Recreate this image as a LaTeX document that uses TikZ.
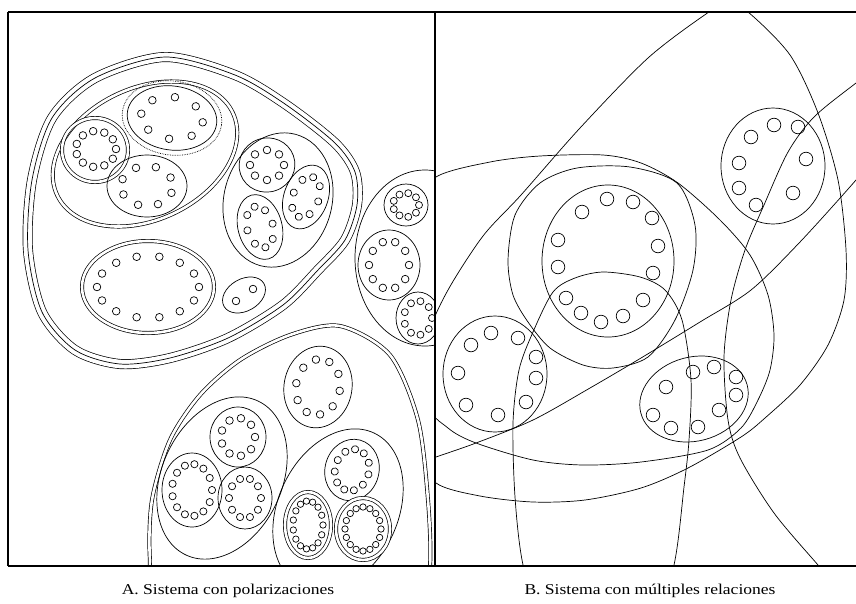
\documentclass[tikz,border=0pt]{standalone}
\usepackage{fontspec}
\setmainfont{Liberation Serif}

\begin{document}
\begin{tikzpicture}[x=1pt,y=-1pt,line width=0.7pt,
  dbl/.style={double,double distance=2.6pt},
  trip/.style={preaction={draw,line width=10pt},preaction={draw,white,line width=8.6pt}},
  frame/.style={line width=1.3pt},
  caption/.style={font=\fontsize{15}{17}\selectfont,xscale=1.17,inner sep=0pt}]
\useasboundingbox (0,0) rectangle (856,603);

% A: polarised system
\begin{scope}
\clip (8,12) rectangle (435,566);
\draw[trip] plot[smooth cycle] coordinates {(165,57) (235,75) (285,104) (335,143) (355,172) (357,205) (345,240) (318,270) (283,305) (228,338) (170,358) (120,364) (75,350) (42,312) (28,250) (32,180) (52,118) (95,78)};
% upper left group
\draw[dbl,rotate around={25:(145,154)}] (145,154) ellipse (97 and 66);
\draw[densely dotted,rotate around={-8:(172,118)}] (172,118) ellipse (50 and 37);
\draw[rotate around={-8:(172,118)}] (172,118) ellipse (45 and 32);
\foreach \k in {1,...,8} \draw[rotate around={-8:(172,118)}] (172,118) ++({\k*45}:31 and 21) circle (3.8);
\draw[dbl] (95,150) ellipse (33 and 32);
\foreach \k in {1,...,11} \draw (96,149) ++({\k*360/11}:20 and 18) circle (3.8);
\draw (147,186) ellipse (40 and 31);
\foreach \k in {1,...,8} \draw (147,186) ++({\k*45+20}:26 and 20) circle (3.8);
% right group
\draw[rotate around={-15:(278,200)}] (278,200) ellipse (54 and 68);
\draw[rotate around={20:(267,165)}] (267,165) ellipse (28 and 27);
\foreach \k in {1,...,8} \draw (267,165) ++({\k*45}:17 and 15) circle (3.8);
\draw[rotate around={-20:(306,197)}] (306,197) ellipse (22 and 33);
\foreach \k in {1,...,8} \draw[rotate around={-20:(306,197)}] (306,197) ++({\k*45}:13 and 21) circle (3.6);
\draw[rotate around={15:(260,227)}] (260,227) ellipse (22 and 33);
\foreach \k in {1,...,8} \draw[rotate around={15:(260,227)}] (260,227) ++({\k*45}:13 and 21) circle (3.6);
% lower group
\draw[dbl] (148,287) ellipse (66 and 46);
\foreach \k in {1,...,14} \draw (148,287) ++({\k*360/14}:51 and 31) circle (3.8);
\draw[rotate around={30:(244,295)}] (244,295) ellipse (23 and 16);
\draw (253,289) circle (3.8);
\draw (236,301) circle (3.8);
% cell cut by the border
\draw (425,258) ellipse (70 and 88);
\draw (406,205) ellipse (22 and 21);
\foreach \k in {1,...,9} \draw (406,205) ++({\k*40}:13 and 12) circle (3.5);
\draw (389,265) ellipse (31 and 35);
\foreach \k in {1,...,10} \draw (389,265) ++({\k*36}:20 and 24) circle (3.8);
\draw (418,318) ellipse (22 and 26);
\foreach \k in {1,...,9} \draw (418,318) ++({\k*40}:14 and 17) circle (3.5);
% big lower cell
\draw[dbl] plot[smooth cycle] coordinates {(340,326) (390,355) (418,420) (428,500) (430,566) (420,620) (300,640) (160,600) (150,560) (152,500) (170,440) (200,395) (240,360) (290,335)};
\draw[rotate around={-10:(318,387)}] (318,387) ellipse (34 and 41);
\foreach \k in {1,...,10} \draw[rotate around={-10:(318,387)}] (318,387) ++({\k*36}:22 and 28) circle (3.8);
\draw[rotate around={-25:(222,478)}] (222,478) ellipse (60 and 85);
\draw (238,437) ellipse (28 and 30);
\foreach \k in {1,...,9} \draw (238,437) ++({\k*40}:17 and 19) circle (3.8);
\draw (192,490) ellipse (30 and 37);
\foreach \k in {1,...,13} \draw (192,490) ++({\k*360/13}:20 and 26) circle (3.6);
\draw (245,498) ellipse (27 and 31);
\foreach \k in {1,...,10} \draw (245,498) ++({\k*36}:16 and 20) circle (3.6);
\draw[rotate around={-25:(338,510)}] (338,510) ellipse (60 and 85);
\draw[rotate around={-15:(352,470)}] (352,470) ellipse (27 and 31);
\foreach \k in {1,...,11} \draw[rotate around={-15:(352,470)}] (352,470) ++({\k*360/11}:17 and 21) circle (3.6);
\draw[dbl] (308,525) ellipse (23 and 33);
\foreach \k in {1,...,15} \draw (308,525) ++({\k*24}:15 and 24) circle (3.2);
\draw[dbl] (363,529) ellipse (27 and 31);
\foreach \k in {1,...,16} \draw (363,529) ++({\k*22.5}:18 and 22) circle (3.2);
\end{scope}

% B: system with multiple relations
\begin{scope}
\clip (435,12) rectangle (856,566);
\draw plot[smooth cycle] coordinates {(727,3) (748,12) (790,55) (818,113) (838,180) (846,250) (844,300) (828,345) (800,385) (765,418) (741,437) (688,468) (641,488) (585,500) (533,502) (480,496) (436,483) (418,450) (415,400) (428,335) (448,290) (483,236) (521,195) (580,128) (648,58) (706,14)};
\draw plot[smooth cycle] coordinates {(436,177) (490,162) (540,156) (603,155) (641,163) (678,183) (720,220) (750,255) (768,295) (774,335) (770,370) (758,400) (741,428) (708,450) (641,462) (583,465) (533,460) (476,443) (448,428) (425,400) (405,300) (415,210)};
\draw plot[smooth] coordinates {(420,463) (436,457) (476,443) (533,420) (590,388) (641,358) (700,322) (751,290) (800,242) (856,180) (880,150)};
\draw plot[smooth] coordinates {(900,50) (856,83) (814,117) (788,152) (764,205) (745,250) (731,300) (724,357) (728,420) (740,458) (774,513) (818,565) (840,590)};
\draw plot[smooth cycle] coordinates {(508,260) (515,215) (540,183) (577,168) (630,167) (677,183) (695,225) (693,270) (675,320) (648,357) (613,368) (583,365) (550,348) (528,322) (513,295)};
\draw plot[smooth cycle] coordinates {(603,272) (640,277) (665,290) (682,320) (691,380) (689,440) (684,487) (674,565) (650,640) (600,660) (545,640) (523,565) (515,497) (513,423) (519,370) (533,332) (553,292) (575,278)};
\draw (773,166) ellipse (52 and 58);
\foreach \x/\y in {751/137,774/125,798/127,806/159,793/193,756/205,739/188,739/163} \draw (\x,\y) circle (6.8);
\draw (608,261) ellipse (66 and 76);
\foreach \x/\y in {582/212,607/199,633/202,652/218,658/246,653/273,558/240,558/267,566/298,581/313,601/322,623/316,643/300} \draw (\x,\y) circle (6.8);
\draw (495,374) ellipse (52 and 58);
\foreach \x/\y in {491/333,471/345,458/373,466/405,498/415,526/402,536/378,536/357,518/338} \draw (\x,\y) circle (6.8);
\draw[rotate around={15:(694,399)}] (694,399) ellipse (55 and 42);
\foreach \x/\y in {693/372,714/367,736/377,736/395,719/410,698/427,671/428,653/415,666/387} \draw (\x,\y) circle (6.8);
\end{scope}

% frame
\draw[frame] (8,12) -- (856,12);
\draw[frame] (8,566) -- (856,566);
\draw[frame] (8,12) -- (8,566);
\draw[frame] (435,12) -- (435,566);

\node[caption] (capA) at (228,591) {A. Sistema con polarizaciones};
\node[caption] (capB) at (650,591) {B. Sistema con múltiples relaciones};
\end{tikzpicture}
\end{document}
